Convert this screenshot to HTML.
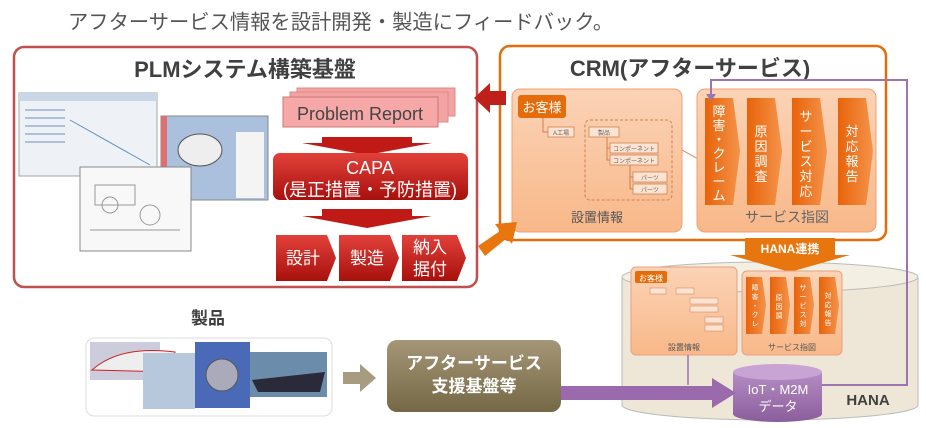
<!DOCTYPE html>
<html><head><meta charset="utf-8">
<style>
html,body{margin:0;padding:0;background:#fff;}
body{width:926px;height:428px;overflow:hidden;position:relative;font-family:"Liberation Sans","Noto Sans CJK JP",sans-serif;}
svg{position:absolute;left:0;top:0;}
</style></head><body>
<svg width="926" height="428" viewBox="0 0 926 428" xmlns="http://www.w3.org/2000/svg" font-family="Liberation Sans, Noto Sans CJK JP, sans-serif">
<defs>
<linearGradient id="red" x1="0" y1="0" x2="0" y2="1"><stop offset="0" stop-color="#e2413a"/><stop offset="1" stop-color="#a8100d"/></linearGradient>
<linearGradient id="org" x1="0" y1="0" x2="1" y2="0"><stop offset="0" stop-color="#e8630a"/><stop offset="1" stop-color="#f4934a"/></linearGradient>
<linearGradient id="lorg" x1="0" y1="0" x2="0" y2="1"><stop offset="0" stop-color="#fbd3b6"/><stop offset="1" stop-color="#f8b889"/></linearGradient>
<linearGradient id="olive" x1="0" y1="0" x2="0" y2="1"><stop offset="0" stop-color="#a49676"/><stop offset="1" stop-color="#756846"/></linearGradient>
<linearGradient id="purp" x1="0" y1="0" x2="0" y2="1"><stop offset="0" stop-color="#b58cc4"/><stop offset="1" stop-color="#8a5e9c"/></linearGradient>
</defs>

<text x="68" y="29" font-size="20.3" fill="#555">アフターサービス情報を設計開発・製造にフィードバック。</text>

<!-- PLM box -->
<rect x="14" y="47" width="463" height="240" rx="10" fill="#fff" stroke="#c0504d" stroke-width="2.5"/>
<text x="245" y="77" font-size="22" font-weight="bold" fill="#404040" text-anchor="middle">PLMシステム構築基盤</text>
<rect x="19" y="93" width="138" height="83" fill="#eef2f7" stroke="#9aa" />
<rect x="19" y="93" width="138" height="8" fill="#c9d6e6"/>
<g stroke="#6a8fc0" stroke-width="1"><line x1="70" y1="120" x2="150" y2="165"/><line x1="25" y1="110" x2="65" y2="110"/><line x1="25" y1="118" x2="65" y2="118"/><line x1="25" y1="126" x2="65" y2="126"/><line x1="25" y1="134" x2="65" y2="134"/><line x1="25" y1="142" x2="65" y2="142"/></g>
<rect x="161" y="116" width="107" height="84" fill="#aac0dd" stroke="#888"/>
<rect x="161" y="116" width="6" height="84" fill="#e07070"/>
<rect x="236" y="132" width="28" height="66" fill="#f4f4f4"/>
<ellipse cx="200" cy="150" rx="22" ry="16" fill="#eee" stroke="#555"/>
<rect x="80" y="167" width="111" height="84" fill="#f8f8f8" stroke="#888"/>
<g stroke="#999" fill="none"><circle cx="110" cy="205" r="8"/><circle cx="150" cy="215" r="10"/><rect x="95" y="185" width="40" height="20"/><line x1="90" y1="230" x2="180" y2="230"/></g>

<rect x="297" y="88" width="158" height="28" fill="#f4a3a3" stroke="#d88"/>
<rect x="290" y="92" width="158" height="30" fill="#f4a3a3" stroke="#d88"/>
<rect x="283" y="97" width="155" height="30" fill="#f6a8a8" stroke="#c77"/>
<text x="360" y="120" font-size="18" fill="#444" text-anchor="middle">Problem Report</text>
<polygon points="322,137 412,137 412,143 432,143 367,155 302,143 322,143" fill="#c01a16"/>
<rect x="273" y="153" width="195" height="47" rx="7" fill="url(#red)"/>
<text x="370" y="174" font-size="18" fill="#fff" text-anchor="middle">CAPA</text>
<text x="370" y="196" font-size="18" fill="#fff" text-anchor="middle">(是正措置・予防措置)</text>
<polygon points="322,209 412,209 412,216 432,216 367,228 302,216 322,216" fill="#c01a16"/>
<polygon points="276,235 327,235 336,258 327,281 276,281" fill="url(#red)"/>
<polygon points="339,235 390,235 399,258 390,281 339,281" fill="url(#red)"/>
<polygon points="402,235 457,235 466,258 457,281 402,281" fill="url(#red)"/>
<text x="303" y="264" font-size="17" fill="#fff" text-anchor="middle">設計</text>
<text x="367" y="264" font-size="17" fill="#fff" text-anchor="middle">製造</text>
<text x="430" y="253" font-size="17" fill="#fff" text-anchor="middle">納入</text>
<text x="430" y="275" font-size="17" fill="#fff" text-anchor="middle">据付</text>

<!-- CRM box -->
<rect x="500" y="46" width="386" height="194" rx="10" fill="#fff" stroke="#e46c0a" stroke-width="2.5"/>
<text x="690" y="76" font-size="22" font-weight="bold" fill="#404040" text-anchor="middle">CRM(アフターサービス)</text>
<rect x="512" y="89" width="170" height="143" rx="8" fill="url(#lorg)" stroke="#f0a070"/>
<rect x="518" y="95" width="48" height="23" rx="3" fill="#e46c0a"/>
<text x="542" y="112" font-size="13" fill="#fff" text-anchor="middle">お客様</text>
<g fill="none" stroke="#d08050" stroke-width="1"><path d="M543,118V132H548"/><rect x="585" y="120" width="87" height="80" rx="5" stroke-dasharray="3,2"/><path d="M607,136V148H610M607,148V160H610M630,165V177H633M630,177V189H633"/><line x1="682" y1="150" x2="700" y2="160"/></g>
<g fill="#fde3d2" stroke="#d08050" stroke-width="0.8" font-size="7"><rect x="548" y="127" width="26" height="10"/><rect x="589" y="127" width="30" height="10"/><rect x="610" y="143" width="48" height="10"/><rect x="610" y="155" width="48" height="10"/><rect x="633" y="172" width="34" height="10"/><rect x="633" y="184" width="34" height="10"/></g>
<g font-size="6" fill="#666" text-anchor="middle"><text x="561" y="135">A工場</text><text x="604" y="135">製品</text><text x="634" y="151">コンポーネント</text><text x="634" y="163">コンポーネント</text><text x="650" y="180">パーツ</text><text x="650" y="192">パーツ</text></g>
<text x="597" y="222" font-size="13" fill="#555" text-anchor="middle">設置情報</text>
<rect x="697" y="89" width="179" height="143" rx="8" fill="url(#lorg)" stroke="#f0a070"/>
<g fill="url(#org)">
<polygon points="705,98 733,98 740,151 733,205 705,205"/>
<polygon points="747,98 775,98 782,151 775,205 747,205"/>
<polygon points="792,98 820,98 827,151 820,205 792,205"/>
<polygon points="838,98 866,98 873,151 866,205 838,205"/>
</g>
<g font-size="13" fill="#fff" text-anchor="middle">
<text x="719" y="116">障</text><text x="719" y="130">害</text><text x="719" y="144">・</text><text x="719" y="158">ク</text><text x="719" y="172">レ</text><text x="719" y="186">ー</text><text x="719" y="200">ム</text>
<text x="761" y="136">原</text><text x="761" y="151">因</text><text x="761" y="166">調</text><text x="761" y="181">査</text>
<text x="806" y="121">サ</text><text x="806" y="136">ー</text><text x="806" y="151">ビ</text><text x="806" y="166">ス</text><text x="806" y="181">対</text><text x="806" y="196">応</text>
<text x="852" y="136">対</text><text x="852" y="151">応</text><text x="852" y="166">報</text><text x="852" y="181">告</text>
</g>
<text x="787" y="222" font-size="14" fill="#666" text-anchor="middle">サービス指図</text>

<!-- red arrow left (on top) -->
<polygon points="474,98 490,83 490,91 506,91 506,105 490,105 490,113" fill="#c0201a"/>
<!-- orange arrow up-right (on top) -->
<polygon points="478,246 500,231 495,224 517,222 512,244 507,238 485,256" fill="#e8760f"/>

<!-- HANA cylinder -->
<path d="M622,277 V405 A148,15 0 0 0 918,405 V277" fill="#eee7d7" stroke="#bbb"/>
<ellipse cx="770" cy="277" rx="148" ry="15" fill="#f4efe3" stroke="#bbb"/>
<polygon points="745,238 835,238 835,255 850,255 790,272 730,255 745,255" fill="#e8760f"/>
<text x="790" y="253" font-size="12" font-weight="bold" fill="#fff" text-anchor="middle">HANA連携</text>
<rect x="631" y="267" width="106" height="88" rx="5" fill="url(#lorg)" stroke="#e8a080"/>
<rect x="635" y="271" width="32" height="12" rx="2" fill="#e46c0a"/>
<text x="651" y="281" font-size="8" fill="#fff" text-anchor="middle">お客様</text>
<g fill="#fde3d2" stroke="#d08050" stroke-width="0.5"><rect x="650" y="288" width="16" height="6"/><rect x="676" y="288" width="18" height="6"/><rect x="690" y="298" width="28" height="6"/><rect x="690" y="306" width="28" height="6"/><rect x="705" y="317" width="18" height="6"/><rect x="705" y="325" width="18" height="6"/></g>
<text x="684" y="350" font-size="8" fill="#555" text-anchor="middle">設置情報</text>
<rect x="742" y="271" width="100" height="84" rx="5" fill="url(#lorg)" stroke="#e8a080"/>
<g fill="url(#org)">
<polygon points="746,277 762,277 766,305 762,334 746,334"/>
<polygon points="770,277 786,277 790,305 786,334 770,334"/>
<polygon points="794,277 810,277 814,305 810,334 794,334"/>
<polygon points="819,277 835,277 839,305 835,334 819,334"/>
</g>
<g font-size="7" fill="#fff" text-anchor="middle"><text x="755" y="290">障</text><text x="755" y="299">害</text><text x="755" y="308">・</text><text x="755" y="317">ク</text><text x="755" y="326">レ</text><text x="779" y="300">原</text><text x="779" y="309">因</text><text x="779" y="318">調</text><text x="803" y="290">サ</text><text x="803" y="299">ー</text><text x="803" y="308">ビ</text><text x="803" y="317">ス</text><text x="803" y="326">対</text><text x="828" y="298">対</text><text x="828" y="307">応</text><text x="828" y="316">報</text><text x="828" y="325">告</text></g>
<text x="792" y="350" font-size="8" fill="#555" text-anchor="middle">サービス指図</text>

<polyline points="822,385 907,385 907,80 711,80 711,97" fill="none" stroke="#9b74b0" stroke-width="2"/>
<polygon points="706,94 716,94 711,101" fill="#9b74b0"/>
<line x1="688" y1="355" x2="688" y2="385" stroke="#9b74b0" stroke-width="1.5"/>

<path d="M733,372 V414 A44.5,8 0 0 0 822,414 V372" fill="url(#purp)"/>
<ellipse cx="777.5" cy="372" rx="44.5" ry="8" fill="#c7a4d4"/>
<text x="778" y="394" font-size="13" fill="#fff" text-anchor="middle">IoT・M2M</text>
<text x="778" y="411" font-size="13" fill="#fff" text-anchor="middle">データ</text>
<text x="868" y="405" font-size="15" font-weight="bold" fill="#404040" text-anchor="middle">HANA</text>

<polygon points="555,386 712,386 712,378 736,393 712,408 712,400 555,400" fill="#9b6aad"/>

<text x="208" y="324" font-size="17" font-weight="bold" fill="#404040" text-anchor="middle">製品</text>
<rect x="86" y="338" width="246" height="78" rx="8" fill="#fff" stroke="#ddd"/>
<rect x="90" y="342" width="70" height="38" fill="#ccd"/>
<path d="M92,370 Q120,345 175,352 L175,372 Z" fill="#eee" stroke="#c22"/>
<rect x="143" y="353" width="52" height="56" fill="#b8c8dc"/>
<rect x="195" y="342" width="55" height="66" fill="#4a6ab8"/>
<circle cx="222" cy="375" r="16" fill="#aab" stroke="#555"/>
<rect x="250" y="352" width="77" height="45" fill="#6b8cab"/>
<path d="M252,380 L325,372 L320,392 L258,392 Z" fill="#2a2a3a"/>
<polygon points="343,372 360,372 360,364 376,378 360,392 360,384 343,384" fill="#a89c80"/>
<rect x="387" y="340" width="174" height="72" rx="10" fill="url(#olive)"/>
<text x="474" y="369" font-size="17" font-weight="bold" fill="#fff" text-anchor="middle">アフターサービス</text>
<text x="474" y="392" font-size="17" font-weight="bold" fill="#fff" text-anchor="middle">支援基盤等</text>
</svg>
</body></html>
